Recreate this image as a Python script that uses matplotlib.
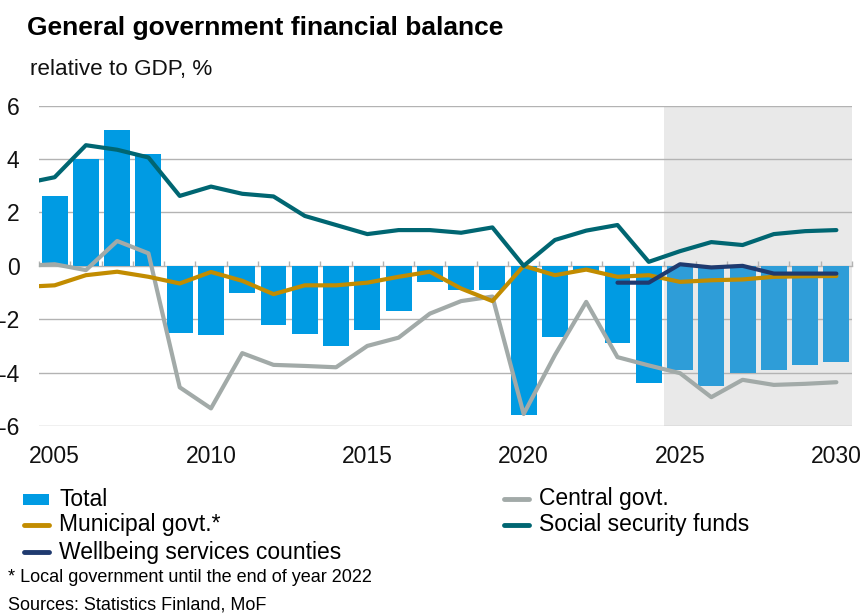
import matplotlib
matplotlib.use("Agg")
import matplotlib.pyplot as plt
from matplotlib.lines import Line2D
from matplotlib.patches import Rectangle

plt.rcParams["font.family"] = ["Liberation Sans", "DejaVu Sans"]
plt.rcParams["axes.unicode_minus"] = False

# Total balance, % of GDP (bars)
years = list(range(2005, 2031))
total = [2.6, 4.0, 5.1, 4.2, -2.5, -2.6, -1.0, -2.2, -2.55, -3.0, -2.4, -1.7, -0.6,
         -0.9, -0.9, -5.6, -2.65, -0.2, -2.9, -4.4, -3.9, -4.5, -4.0, -3.9, -3.7, -3.6]
forecast_start = 2025

# Subsectors (lines); the series begin in 2004 and run off the left edge
line_years = list(range(2004, 2031))
central = [0.0, 0.06, -0.16, 0.93, 0.47, -4.55, -5.34, -3.27, -3.71, -3.75, -3.8, -3.0,
           -2.69, -1.79, -1.32, -1.15, -5.55, -3.34, -1.35, -3.42, -3.73, -4.02, -4.92,
           -4.27, -4.46, -4.42, -4.36]
municipal = [-0.79, -0.73, -0.35, -0.22, -0.41, -0.66, -0.23, -0.56, -1.06, -0.73, -0.73,
             -0.63, -0.41, -0.22, -0.85, -1.32, 0.0, -0.35, -0.14, -0.41, -0.35, -0.6,
             -0.54, -0.51, -0.41, -0.39, -0.38]
social = [3.08, 3.32, 4.52, 4.35, 4.06, 2.62, 2.97, 2.7, 2.6, 1.87, 1.53, 1.19, 1.34, 1.34,
          1.24, 1.44, 0.0, 0.97, 1.32, 1.53, 0.15, 0.55, 0.89, 0.78, 1.19, 1.3, 1.34]
wellbeing_years = list(range(2023, 2031))
wellbeing = [-0.63, -0.63, 0.06, -0.06, 0.0, -0.29, -0.29, -0.29]

y_ticks = [-6, -4, -2, 0, 2, 4, 6]
x_label_years = [2005, 2010, 2015, 2020, 2025, 2030]

C_BAR = "#009BE3"
C_BAR_FC = "#2E9DD8"
C_CENTRAL = "#A2AAA8"
C_MUNI = "#C28C00"
C_SOCIAL = "#006672"
C_WELL = "#1F3A6F"
C_GRID = "#B3B3B3"
C_SHADE = "#E9E9E9"

W, H = 863, 615
fig = plt.figure(figsize=(W / 100, H / 100), dpi=100)
ax = fig.add_axes([39 / W, 1 - 426 / H, (852 - 39) / W, (426 - 105.7) / H])

x_lo, x_hi = years[0] - 0.5, years[-1] + 0.5
ax.set_xlim(x_lo, x_hi)
ax.set_ylim(y_ticks[0], y_ticks[-1])

# forecast period
ax.axvspan(forecast_start - 0.5, x_hi, color=C_SHADE, zorder=0, lw=0)

# gridlines
for v in y_ticks:
    if v != 0:
        ax.axhline(v, color=C_GRID, lw=1.0, zorder=0.5)

bar_colors = [C_BAR if y < forecast_start else C_BAR_FC for y in years]
ax.bar(years, total, width=0.83, color=bar_colors, zorder=2, lw=0)

line_kw = dict(lw=3.0, solid_capstyle="round", solid_joinstyle="round", zorder=3)
ax.plot(line_years, central, color=C_CENTRAL, **line_kw)
ax.plot(line_years, municipal, color=C_MUNI, **line_kw)
ax.plot(line_years, social, color=C_SOCIAL, **line_kw)
ax.plot(wellbeing_years, wellbeing, color=C_WELL, **line_kw)

for s in ax.spines.values():
    s.set_visible(False)

ax.set_yticks(y_ticks)
ax.set_yticklabels([str(v) for v in y_ticks])
ax.tick_params(axis="y", length=0, pad=14, labelsize=16.5, colors="#111111")
ax.set_xticks(x_label_years)
ax.set_xticklabels([str(v) for v in x_label_years])
ax.tick_params(axis="x", length=0, pad=14, labelsize=16.5, colors="#111111")

# category axis running along zero, with ticks between years
zero_axis = ax.secondary_xaxis(0.5)
zero_axis.set_xticks([y - 0.5 for y in years] + [x_hi])
zero_axis.tick_params(axis="x", direction="out", length=3.6, width=1.0,
                      color=C_GRID, labeltop=False, labelbottom=False)
for s in zero_axis.spines.values():
    s.set_color(C_GRID)
    s.set_linewidth(1.0)

# titles
fig.text(27 / W, 1 - 35 / H, "General government financial balance", fontsize=19,
         fontweight="bold", va="baseline", ha="left", color="#000000")
fig.text(30 / W, 1 - 75 / H, "relative to GDP, %", fontsize=16.2, va="baseline",
         ha="left", color="#111111")

# legend
def fx(px):
    return px / W


def fy(py):
    return 1 - py / H


leg_fs = 16.5
fig.add_artist(Rectangle((fx(23), fy(505)), fx(49) - fx(23), fy(494) - fy(505),
                         transform=fig.transFigure, color=C_BAR, lw=0))
fig.text(fx(59), fy(499), "Total", fontsize=leg_fs, va="center", ha="left")

entries = [
    (22, 525, C_MUNI, "Municipal govt.*"),
    (22, 552, C_WELL, "Wellbeing services counties"),
    (502, 499, C_CENTRAL, "Central govt."),
    (502, 525, C_SOCIAL, "Social security funds"),
]
for x0, y0, c, label in entries:
    fig.add_artist(Line2D([fx(x0 + 2), fx(x0 + 27)], [fy(y0), fy(y0)], color=c, lw=3.5,
                          solid_capstyle="round", transform=fig.transFigure))
    fig.text(fx(x0 + 37), fy(y0), label, fontsize=leg_fs, va="center", ha="left")

fig.text(fx(8), fy(578), "* Local government until the end of year 2022", fontsize=13,
         va="center", ha="left")
fig.text(fx(8), fy(605), "Sources: Statistics Finland, MoF", fontsize=13,
         va="center", ha="left")

fig.savefig("out.png", dpi=100)
